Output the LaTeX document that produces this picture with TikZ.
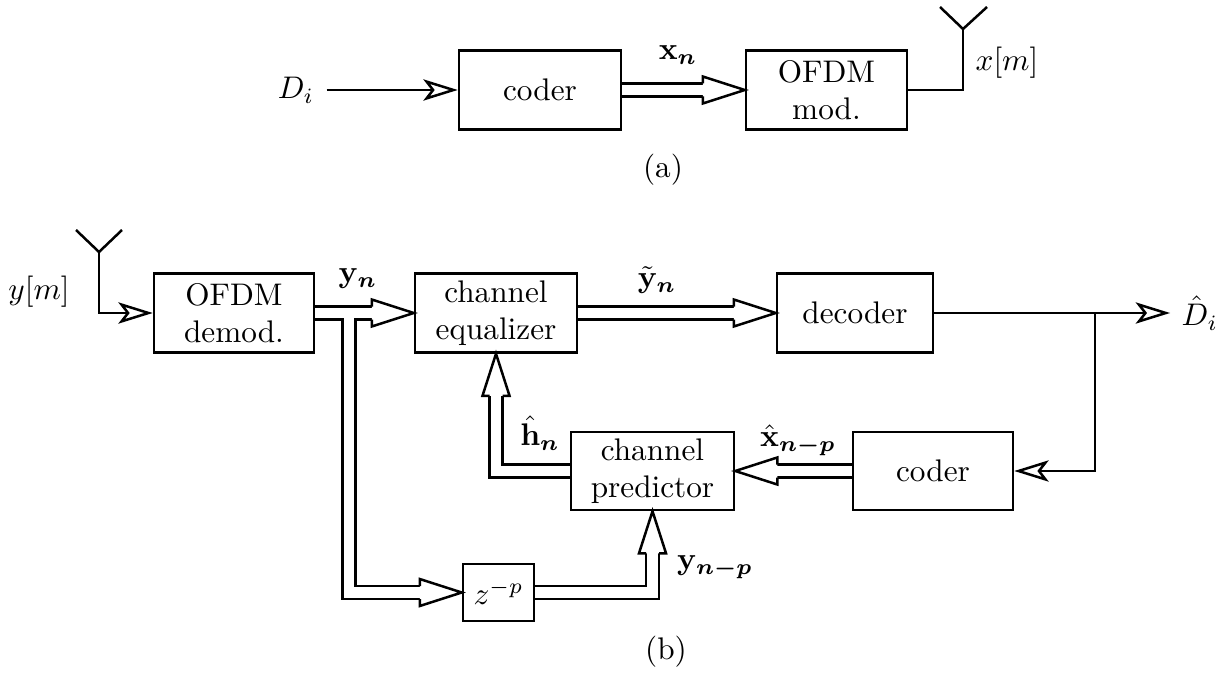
\documentclass[tikz,border=0pt]{standalone}
\usepackage{amsmath}
\usetikzlibrary{arrows.meta,calc}
\begin{document}
\begin{tikzpicture}[x=0.32pt,y=-0.32pt,
  every node/.style={inner sep=0pt},
  lw/.style={line width=0.8pt},
  box/.style={draw, lw, align=center, inner sep=2pt},
  sarrow/.style={lw, -{Stealth[open,length=11pt,width=6.8pt,inset=2.6pt]}},
  dshaft/.style={lw, double, double distance=3.35pt, shorten >=12.8pt},
  dhead/.pic={
    \fill[white] (-42,-13.5) -- (0,0) -- (-42,13.5) -- cycle;
    \draw[lw, line join=miter] (-42,-6.5) -- (-42,-13.5) -- (0,0) -- (-42,13.5) -- (-42,6.5);
  }]
\useasboundingbox (0,0) rectangle (1225,680);

% ---------- (a) ----------
\node[box, minimum width=51.84pt, minimum height=25.28pt] (coderA) at (540,90) {coder};
\node[box, minimum width=51.52pt, minimum height=25.28pt] (modA) at (826.5,90) {OFDM\\mod.};
\node (Di) at (296,90) {$D_i$};
\node (xn) at (678,55) {$\mathbf{x}_{\boldsymbol{n}}$};
\coordinate (antA) at (963,29);
\coordinate (antAl) at (940,7);
\coordinate (antAr) at (987,7);
\node (xm) at (1007,63) {$x[m]$};
\node (capA) at (663,170) {(a)};

\draw[sarrow, shorten <=3.8pt] (Di) -- (coderA);
\draw[dshaft] (coderA.east) -- (modA.west);
\pic at (modA.west) {dhead};
\draw[lw] (modA.east) -| (antA);
\draw[lw] (antAl) -- (antA) -- (antAr);

% ---------- (b) ----------
\node[box, minimum width=51.2pt, minimum height=25.28pt] (demod) at (234,313) {OFDM\\demod.};
\node[box, minimum width=51.84pt, minimum height=25.28pt] (eq) at (496,313) {channel\\equalizer};
\node[box, minimum width=49.92pt, minimum height=25.28pt] (dec) at (855,313) {decoder};
\node[box, minimum width=52.16pt, minimum height=24.96pt] (pred) at (652.5,471) {channel\\predictor};
\node[box, minimum width=51.2pt, minimum height=24.96pt] (coderB) at (933,471) {coder};
\node[box, minimum width=22.72pt, minimum height=18.24pt] (zp) at (498.5,592.5) {$z^{-p}$};

\coordinate (antB) at (99,252);
\coordinate (antBl) at (76,230);
\coordinate (antBr) at (122,230);
\node (ym) at (39,292) {$y[m]$};
\node (yn) at (358,279) {$\mathbf{y}_{\boldsymbol{n}}$};
\node (ytn) at (657,280) {$\tilde{\mathbf{y}}_{\boldsymbol{n}}$};
\node (hn) at (540,433) {$\hat{\mathbf{h}}_{\boldsymbol{n}}$};
\node (xhat) at (798,440) {$\hat{\mathbf{x}}_{\boldsymbol{n-p}}$};
\node (ynp) at (715,567) {$\mathbf{y}_{\boldsymbol{n-p}}$};
\node[anchor=west] (Dhat) at (1181,313) {$\hat{D}_i$};
\node (capB) at (666,652) {(b)};
\coordinate (br) at (349,313);
\coordinate (fb) at (1095,313);

% antenna to demodulator
\draw[lw] (antBl) -- (antB) -- (antBr);
\draw[sarrow] (antB) |- (demod.west);

% demod -> equalizer with branch to z^{-p}
\draw[dshaft] (br) |- (zp.west);
\pic at (zp.west) {dhead};
\draw[dshaft] (demod.east) -- (eq.west);
\fill[white] ($(br)+(-5.1,0)$) rectangle ($(br)+(5.1,7.9)$);
\pic at (eq.west) {dhead};

% equalizer -> decoder
\draw[dshaft] (eq.east) -- (dec.west);
\pic at (dec.west) {dhead};

% decoder output and feedback
\draw[sarrow, shorten >=3.5pt] (dec.east) -- (Dhat.west);
\draw[sarrow] (fb) |- (coderB.east);

% coder -> predictor
\draw[dshaft] (coderB.west) -- (pred.east);
\pic[rotate=180] at (pred.east) {dhead};

% predictor -> equalizer
\draw[dshaft] (pred.west) -| (eq.south);
\pic[rotate=90] at (eq.south) {dhead};

% z^{-p} -> predictor
\draw[dshaft] (zp.east) -| (pred.south);
\pic[rotate=90] at (pred.south) {dhead};
\end{tikzpicture}
\end{document}
